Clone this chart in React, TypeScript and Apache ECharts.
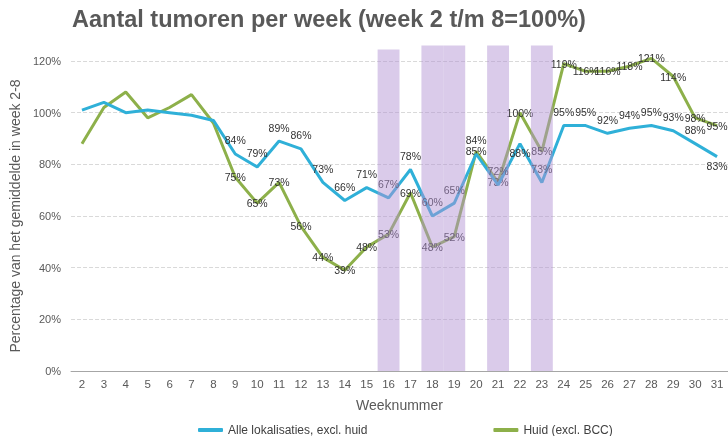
import React, { useEffect, useRef } from "react";
import * as echarts from "echarts";

const weeks = ["2","3","4","5","6","7","8","9","10","11","12","13","14","15","16","17","18","19","20","21","22","23","24","25","26","27","28","29","30","31"];
const alleLokalisaties = [101, 104, 100, 101, 100, 99, 97, 84, 79, 89, 86, 73, 66, 71, 67, 78, 60, 65, 84, 72, 88, 73, 95, 95, 92, 94, 95, 93, 88, 83];
const huid = [88, 102, 108, 98, 102, 107, 96, 75, 65, 73, 56, 44, 39, 48, 53, 69, 48, 52, 85, 73, 100, 85, 119, 116, 116, 118, 121, 114, 98, 95];
const bandWeeks = ["16", "18", "19", "21", "23"];
const bandTops = [124.5, 126, 126, 126, 126];
const firstLabelledWeek = 9;
const blueLabelsBelow = ["22", "31"];

const FONT = "'Liberation Sans', Arial, sans-serif";

export default function App() {
  const ref = useRef<HTMLDivElement>(null);
  useEffect(() => {
    if (!ref.current) return;
    const chart = echarts.init(ref.current, null, { renderer: "svg" });
    const blueData = alleLokalisaties.map((v, i) => ({
      value: v,
      label: {
        show: Number(weeks[i]) >= firstLabelledWeek,
        position: blueLabelsBelow.includes(weeks[i]) ? "bottom" : "top",
        distance: blueLabelsBelow.includes(weeks[i]) ? 4 : 8,
      },
    }));
    const greenData = huid.map((v, i) => ({
      value: v,
      label: { show: Number(weeks[i]) >= firstLabelledWeek, position: "inside" },
    }));
    const bandData = weeks.map((w) => {
      const k = bandWeeks.indexOf(w);
      return k >= 0 ? bandTops[k] : null;
    });
    const labelStyle = { fontFamily: FONT, fontSize: 10.5, color: "#333333" };
    chart.setOption({
      animation: false,
      textStyle: { fontFamily: FONT },
      title: {
        text: "Aantal tumoren per week (week 2 t/m 8=100%)",
        left: 67,
        top: 2,
        textStyle: { fontFamily: FONT, fontSize: 23.5, fontWeight: "bold", color: "#595959" },
      },
      grid: { left: 70.6, right: -5.6, top: 61, bottom: 65 },
      legend: {
        data: ["Alle lokalisaties, excl. huid", "Huid (excl. BCC)"],
        left: 193,
        bottom: -5,
        itemWidth: 25,
        itemHeight: 4,
        itemGap: 126,
        icon: "roundRect",
        textStyle: { fontFamily: FONT, fontSize: 12, color: "#404040" },
      },
      xAxis: {
        type: "category",
        data: weeks,
        boundaryGap: true,
        axisLine: { lineStyle: { color: "#a6a6a6", width: 1 } },
        axisTick: { length: 5, lineStyle: { color: "#a6a6a6" } },
        axisLabel: { color: "#595959", fontSize: 11.5, margin: 7, interval: 0, fontFamily: FONT },
        name: "Weeknummer",
        nameLocation: "middle",
        nameGap: 27,
        nameTextStyle: { fontSize: 14, color: "#595959", fontFamily: FONT },
      },
      yAxis: {
        type: "value",
        min: 0,
        max: 120,
        interval: 20,
        axisLine: { show: false },
        axisTick: { show: false },
        axisLabel: { formatter: "{value}%", fontSize: 11, color: "#595959", margin: 10, fontFamily: FONT },
        splitLine: { lineStyle: { color: "#d9d9d9", type: [4, 2] } },
        name: "Percentage van het gemiddelde in week 2-8",
        nameLocation: "middle",
        nameGap: 47,
        nameTextStyle: { fontSize: 14, color: "#595959", fontFamily: FONT },
      },
      series: [
        {
          name: "Alle lokalisaties, excl. huid",
          type: "line",
          data: blueData,
          clip: false,
          z: 3,
          symbol: "circle",
          symbolSize: 0.1,
          showSymbol: true,
          lineStyle: { color: "#2fb0d8", width: 3 },
          itemStyle: { color: "#2fb0d8" },
          label: { ...labelStyle, formatter: "{c}%" },
        },
        {
          name: "Huid (excl. BCC)",
          type: "line",
          data: greenData,
          clip: false,
          z: 2,
          symbol: "circle",
          symbolSize: 0.1,
          showSymbol: true,
          lineStyle: { color: "#8db04a", width: 3 },
          itemStyle: { color: "#8db04a" },
          label: { ...labelStyle, formatter: "{c}%" },
        },
        {
          name: "bands",
          type: "bar",
          data: bandData,
          barCategoryGap: "0%",
          barGap: "0%",
          clip: false,
          z: 10,
          silent: true,
          itemStyle: { color: "rgba(178, 146, 212, 0.48)" },
        },
      ],
    });
    return () => chart.dispose();
  }, []);
  return <div ref={ref} style={{ position: "fixed", left: 0, top: 0, width: 728, height: 436 }} />;
}
